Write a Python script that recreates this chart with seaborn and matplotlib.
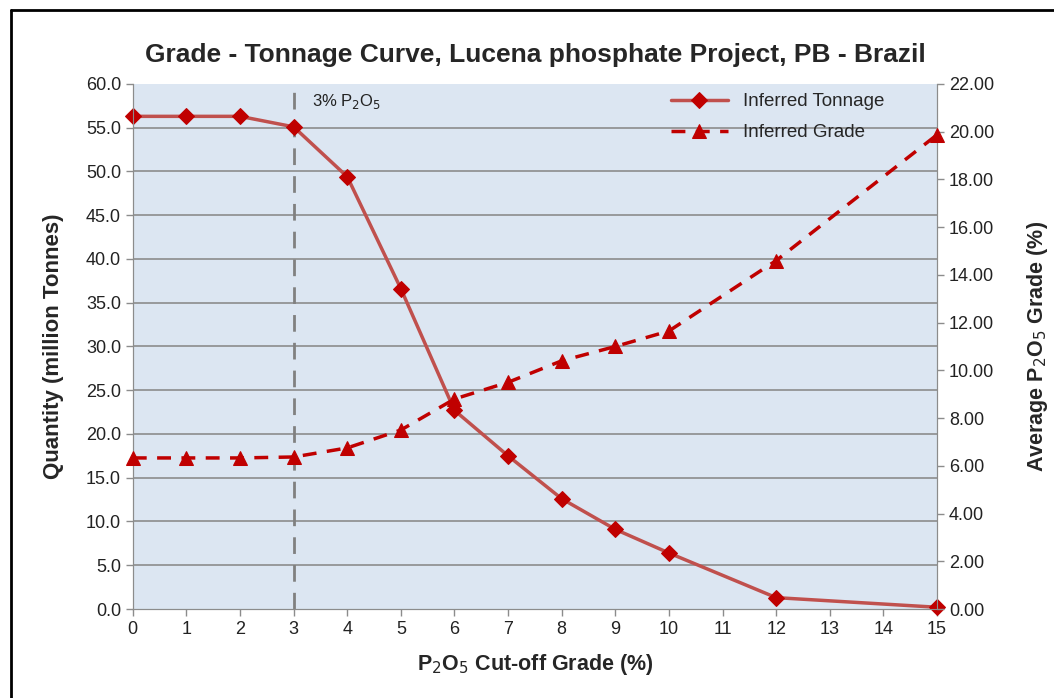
import seaborn as sns
import matplotlib.pyplot as plt
import pandas as pd
from matplotlib.lines import Line2D

# cut-off grades (% P2O5)
cutoff = [0, 1, 2, 3, 4, 5, 6, 7, 8, 9, 10, 12, 15]
# inferred tonnage (million t)
tonnage = [56.3, 56.3, 56.3, 55.1, 49.4, 36.6, 22.7, 17.5, 12.6, 9.1, 6.4, 1.3, 0.2]
# inferred average grade (% P2O5)
grade = [6.33, 6.33, 6.33, 6.37, 6.75, 7.5, 8.8, 9.5, 10.4, 11.0, 11.65, 14.6, 19.87]

df = pd.DataFrame({'cutoff': cutoff, 'tonnage': tonnage, 'grade': grade})

sns.set_style('white')
plt.rcParams['font.family'] = ['Liberation Sans', 'DejaVu Sans']

fig = plt.figure(figsize=(10.54, 6.98), dpi=100)
ax = fig.add_axes([0.126, 0.1275, 0.763, 0.7522])
ax2 = ax.twinx()

ax.set_facecolor('#DCE6F2')
ax.set_zorder(0)
ax2.set_zorder(1)
ax2.patch.set_visible(False)

# frame lines on the left and top of the picture
fig.add_artist(Line2D([0.0105, 0.0105], [0, 0.986], transform=fig.transFigure,
                      color='black', linewidth=2))
fig.add_artist(Line2D([0.0105, 1], [0.986, 0.986], transform=fig.transFigure,
                      color='black', linewidth=2))

for y in range(5, 60, 5):
    ax.axhline(y, color='#8C8C8C', linewidth=1.2, zorder=0)

ax.axvline(3, color='#808080', linestyle=(0, (6, 4)), linewidth=2, zorder=1)
ax.text(3.35, 58.0, '3% P$_2$O$_5$', fontsize=12, color='#222222', va='center')

sns.lineplot(data=df, x='cutoff', y='tonnage', ax=ax, color='#C0504D', linewidth=2.5,
             marker='D', markersize=8, markerfacecolor='#C00000', markeredgecolor='#C00000',
             label='Inferred Tonnage', legend=False, zorder=3, clip_on=False)
sns.lineplot(data=df, x='cutoff', y='grade', ax=ax2, color='#C00000', linewidth=2.5,
             linestyle=(0, (4, 3)), marker='^', markersize=10, markerfacecolor='#C00000',
             markeredgecolor='#C00000', label='Inferred Grade', legend=False, zorder=3,
             clip_on=False)

ax.set_xlim(0, 15)
ax.set_ylim(0, 60)
ax2.set_ylim(0, 22)
ax.set_xticks(range(0, 16))
ax.set_yticks(range(0, 61, 5))
ax.set_yticklabels([f'{v:.1f}' for v in range(0, 61, 5)])
ax2.set_yticks(range(0, 23, 2))
ax2.set_yticklabels([f'{v:.2f}' for v in range(0, 23, 2)])

for a in (ax, ax2):
    for s in a.spines.values():
        s.set_color('#8C8C8C')
    a.spines['top'].set_visible(False)
    a.tick_params(labelsize=13, colors='#222222', length=5, width=1, color='#8C8C8C')
ax.tick_params(axis='x', direction='out', bottom=True)
ax.tick_params(axis='y', direction='out', left=True)
ax2.tick_params(axis='y', direction='out', right=True)

ax.set_xlabel('P$_2$O$_5$ Cut-off Grade (%)', fontsize=15.5, fontweight='bold', labelpad=10)
ax.set_ylabel('Quantity (million Tonnes)', fontsize=16, fontweight='bold', labelpad=16)
ax2.set_ylabel('Average P$_2$O$_5$ Grade (%)', fontsize=15.5, fontweight='bold', labelpad=22)
ax.set_title('Grade - Tonnage Curve, Lucena phosphate Project, PB - Brazil',
             fontsize=19, fontweight='bold', pad=16)

h1, l1 = ax.get_legend_handles_labels()
h2, l2 = ax2.get_legend_handles_labels()
ax2.legend(h1 + h2, l1 + l2, loc='upper right', bbox_to_anchor=(0.955, 1.015), frameon=False,
           fontsize=13.5, handlelength=3.0, labelspacing=0.75)

fig.savefig('out.png', dpi=100)
